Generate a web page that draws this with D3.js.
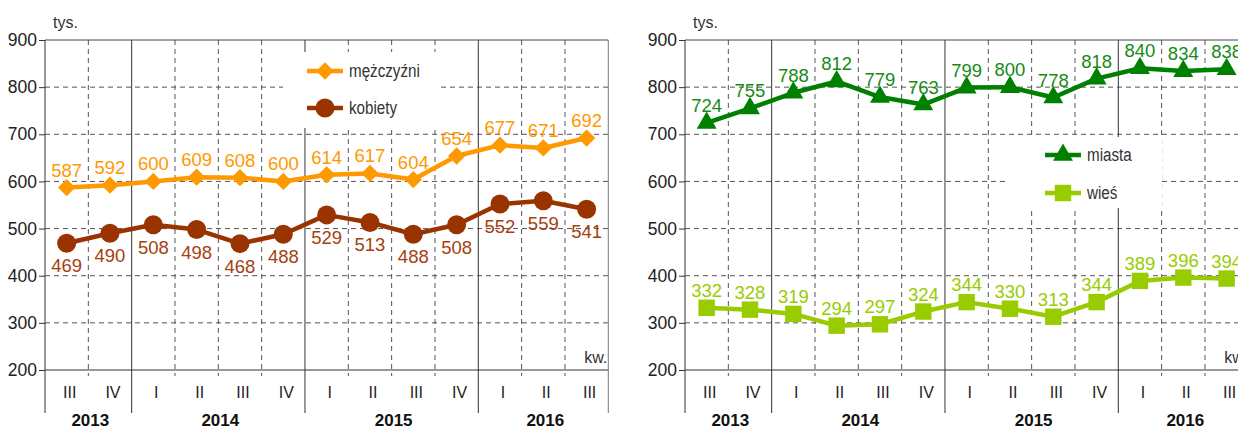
<!DOCTYPE html>
<html>
<head>
<meta charset="utf-8">
<script src="https://cdn.jsdelivr.net/npm/d3@7"></script>
<style>
  html, body { margin: 0; padding: 0; background: #fff; }
  svg { display: block; font-family: "Liberation Sans", Arial, sans-serif; }
</style>
</head>
<body>
<svg id="chart" width="1238" height="430"></svg>
<script>
// ---- data ----
const quarters = ["III","IV","I","II","III","IV","I","II","III","IV","I","II","III"];
const years = [
  {label: "2013", n: 2},
  {label: "2014", n: 4},
  {label: "2015", n: 4},
  {label: "2016", n: 3}
];
const yTicks = [200, 300, 400, 500, 600, 700, 800, 900];
const mezczyzni = [587, 592, 600, 609, 608, 600, 614, 617, 604, 654, 677, 671, 692];
const kobiety   = [469, 490, 508, 498, 468, 488, 529, 513, 488, 508, 552, 559, 541];
const miasta    = [724, 755, 788, 812, 779, 763, 799, 800, 778, 818, 840, 834, 838];
const wies      = [332, 328, 319, 294, 297, 324, 344, 330, 313, 344, 389, 396, 394];

const svg = d3.select("#chart");

function drawChart(cfg) {
  const colW = 43.33;
  const n = quarters.length;
  const g = svg.append("g");
  const x = d3.scaleBand().domain(d3.range(n)).range([cfg.x0, cfg.x0 + n * colW]).padding(0);
  const y = d3.scaleLinear().domain([200, 900]).range([370, 40]);
  const left = cfg.x0, right = cfg.x0 + n * colW;
  const grid = "#555";

  // horizontal dashed grid
  g.selectAll(".hg").data(yTicks.filter(v => v > 200 && v < 900)).enter().append("line")
    .attr("x1", left).attr("x2", right)
    .attr("y1", d => y(d)).attr("y2", d => y(d))
    .attr("stroke", grid).attr("stroke-width", 1).attr("stroke-dasharray", "5,4");

  // vertical lines at column boundaries
  const yearBounds = [];
  let acc = 0;
  years.forEach(yr => { acc += yr.n; yearBounds.push(acc); });
  d3.range(1, n).forEach(i => {
    const bx = x(i);
    const solid = yearBounds.includes(i);
    g.append("line").attr("x1", bx).attr("x2", bx)
      .attr("y1", y(900)).attr("y2", solid ? 413 : 376)
      .attr("stroke", solid ? "#333" : grid).attr("stroke-width", 1)
      .attr("stroke-dasharray", solid ? null : "5,4");
  });

  // frame: top, bottom axis, left axis, right border
  g.append("line").attr("x1", left).attr("x2", right).attr("y1", y(900)).attr("y2", y(900)).attr("stroke", "#444");
  g.append("line").attr("x1", left).attr("x2", right).attr("y1", y(200)).attr("y2", y(200)).attr("stroke", "#333");
  g.append("line").attr("x1", left).attr("x2", left).attr("y1", y(900)).attr("y2", 413).attr("stroke", "#333");
  g.append("line").attr("x1", right).attr("x2", right).attr("y1", y(900)).attr("y2", 413).attr("stroke", "#777");

  // y axis
  const ax = g.append("g").attr("transform", `translate(${left},0)`)
    .call(d3.axisLeft(y).tickValues(yTicks).tickSize(6).tickPadding(2));
  ax.select(".domain").remove();
  ax.selectAll(".tick line").attr("stroke", "#333");
  ax.selectAll(".tick text").attr("font-size", 17.5).attr("fill", "#222")
    .attr("font-family", "Liberation Sans, Arial, sans-serif");

  // units
  g.append("text").attr("x", left + 8).attr("y", 28).attr("font-size", 16).attr("fill", "#333").text("tys.");
  g.append("text").attr("x", right - 1).attr("y", 363).attr("text-anchor", "end")
    .attr("font-size", 16).attr("fill", "#333").text("kw.");

  // quarter labels
  g.selectAll(".q").data(quarters).enter().append("text")
    .attr("x", (d, i) => x(i) + x.bandwidth() / 2 + 3).attr("y", 398)
    .attr("text-anchor", "middle").attr("font-size", 16).attr("fill", "#222").text(d => d);

  // year labels
  let start = 0;
  years.forEach(yr => {
    const cx = (x(start) + x(start + yr.n - 1) + x.bandwidth()) / 2 + 2;
    g.append("text").attr("x", cx).attr("y", 426).attr("text-anchor", "middle")
      .attr("font-size", 17).attr("font-weight", "bold").attr("fill", "#111").text(yr.label);
    start += yr.n;
  });

  // legend box
  const lg = cfg.legend;
  g.append("rect").attr("x", lg.x).attr("y", lg.y).attr("width", lg.w).attr("height", lg.h)
    .attr("fill", "#fff");

  const line = d3.line().x((d, i) => x(i) + x.bandwidth() / 2).y(d => y(d));

  cfg.series.forEach((s, si) => {
    g.append("path").datum(s.values).attr("d", line)
      .attr("fill", "none").attr("stroke", s.color).attr("stroke-width", 4.5)
      .attr("stroke-linejoin", "round");
    const sym = d3.symbol().type(s.symbol).size(s.size);
    g.selectAll(null).data(s.values).enter().append("path")
      .attr("d", sym)
      .attr("transform", (d, i) => `translate(${x(i) + x.bandwidth() / 2},${y(d)}) rotate(${s.rotate || 0})`)
      .attr("fill", s.color);
    g.selectAll(null).data(s.values).enter().append("text")
      .attr("x", (d, i) => x(i) + x.bandwidth() / 2)
      .attr("y", d => y(d) + s.labelDy)
      .attr("text-anchor", "middle").attr("font-size", 18.5).attr("fill", s.labelColor)
      .text(d => d);

    // legend entry
    const ly = lg.y + lg.rowY[si];
    g.append("line").attr("x1", lg.x + lg.lx).attr("x2", lg.x + lg.lx + 36)
      .attr("y1", ly).attr("y2", ly).attr("stroke", s.color).attr("stroke-width", 4.5);
    g.append("path").attr("d", sym)
      .attr("transform", `translate(${lg.x + lg.lx + 18},${ly}) rotate(${s.rotate || 0})`)
      .attr("fill", s.color);
    g.append("text")
      .attr("transform", `translate(${lg.x + lg.lx + 42},${ly + 6}) scale(0.8,1)`)
      .attr("font-size", 19).attr("fill", "#333").text(s.name);
  });
}

drawChart({
  x0: 45,
  legend: {x: 283, y: 52, w: 157, h: 76, lx: 24, rowY: [19, 56]},
  series: [
    {name: "mężczyźni", values: mezczyzni, color: "#FF9900", labelColor: "#FF9900",
     symbol: d3.symbolSquare, size: 150, rotate: 45, labelDy: -11},
    {name: "kobiety", values: kobiety, color: "#993300", labelColor: "#A5410F",
     symbol: d3.symbolCircle, size: 283, labelDy: 29}
  ]
});

drawChart({
  x0: 685,
  legend: {x: 1008, y: 137, w: 154, h: 71, lx: 37, rowY: [18, 56]},
  series: [
    {name: "miasta", values: miasta, color: "#008000", labelColor: "#168A16",
     symbol: d3.symbolTriangle, size: 173, labelDy: -11},
    {name: "wieś", values: wies, color: "#99CC00", labelColor: "#99CC00",
     symbol: d3.symbolSquare, size: 270, labelDy: -11}
  ]
});
</script>
</body>
</html>
